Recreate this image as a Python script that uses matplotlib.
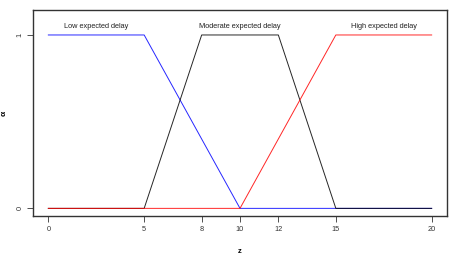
import numpy as np
import matplotlib
matplotlib.use("Agg")
import matplotlib.pyplot as plt

plt.rcParams['font.family'] = ['Liberation Sans', 'DejaVu Sans']

# membership functions (breakpoints)
low_x = [0, 5, 10, 20]
low_y = [1, 1, 0, 0]
mod_x = [0, 5, 8, 12, 15, 20]
mod_y = [0, 0, 1, 1, 0, 0]
high_x = [0, 10, 15, 20]
high_y = [0, 0, 1, 1]

labels = ["Low expected delay", "Moderate expected delay", "High expected delay"]
label_x = [2.5, 10, 17.5]
label_y = 1.05

xticks = [0, 5, 8, 10, 12, 15, 20]
yticks = [0, 1]

fig = plt.figure(figsize=(4.54, 2.6), dpi=100)
ax = fig.add_axes([33 / 454, 1 - 216 / 260, (447 - 33) / 454, (216 - 10) / 260])

ax.plot(low_x, low_y, color='blue', lw=0.7, alpha=0.85)
ax.plot(mod_x, mod_y, color='black', lw=0.7, alpha=0.85)
ax.plot(high_x, high_y, color='red', lw=0.7, alpha=0.85)

for t, lx in zip(labels, label_x):
    ax.text(lx, label_y, t, ha='center', va='center', fontsize=5.3, color='#222222')

ax.set_xlim(-0.8, 20.8)
ax.set_ylim(-0.044, 1.144)
ax.set_xticks(xticks)
ax.set_yticks(yticks)
ax.set_yticklabels([str(v) for v in yticks], rotation=90, va='center')
ax.tick_params(labelsize=5.3, length=4, width=0.6, colors='#333333', pad=3)

for s in ax.spines.values():
    s.set_linewidth(1.0)
    s.set_color('#333333')

ax.set_xlabel('z', fontsize=5.5, fontweight='bold')
ax.set_ylabel('α', fontsize=6, fontweight='bold')
ax.xaxis.set_label_coords(0.5, -0.155)
ax.yaxis.set_label_coords(-0.062, 0.5)

fig.savefig('out.png', dpi=100)
